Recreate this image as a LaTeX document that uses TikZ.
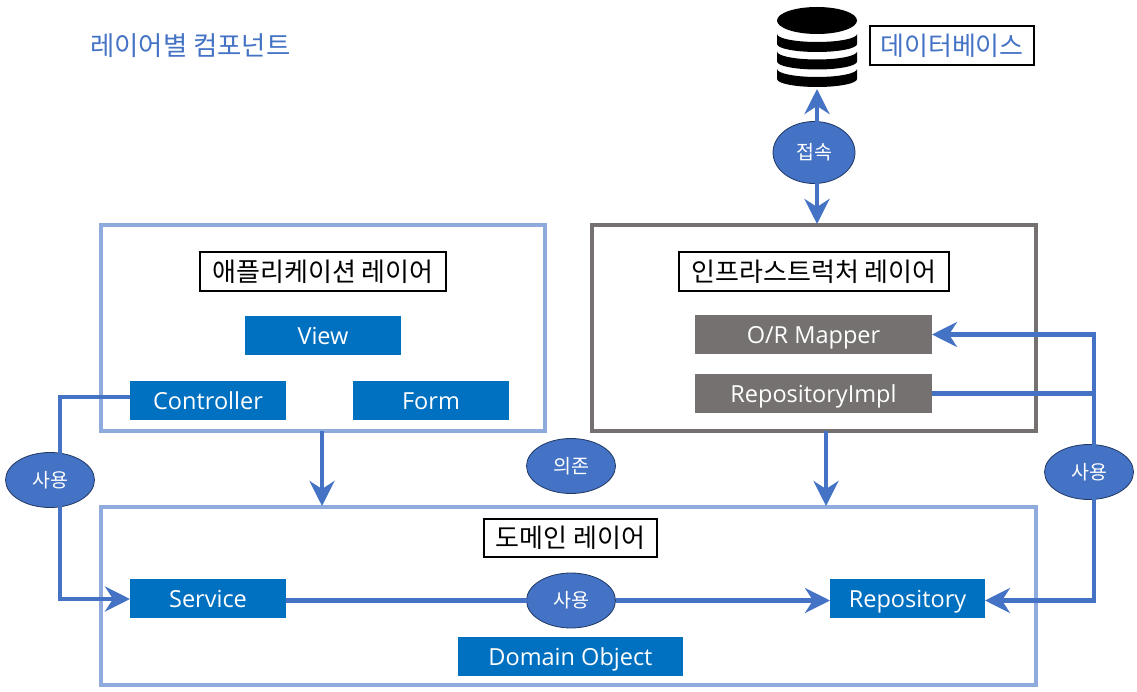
\documentclass[tikz,border=0pt]{standalone}
\usepackage{fontspec}
\setmainfont{Noto Sans CJK KR}
\newfontfamily\latinfont{Open Sans}
\usetikzlibrary{arrows.meta,shapes.geometric}
\definecolor{accent}{HTML}{4472C4}
\definecolor{paleblue}{HTML}{8FAADC}
\definecolor{slategrey}{HTML}{767171}
\definecolor{boxblue}{HTML}{0070C0}
\definecolor{ringdark}{HTML}{203864}
\tikzset{
  frameblue/.style={draw=paleblue,line width=3.5pt,inner sep=0pt,outer sep=0pt,anchor=north west},
  framegrey/.style={draw=slategrey,line width=3.5pt,inner sep=0pt,outer sep=0pt,anchor=north west},
  comp/.style={fill=boxblue,text=white,inner sep=0pt,outer sep=0pt,anchor=north west,text height=22pt,text depth=4pt,font=\fontsize{23.5}{25}\selectfont\latinfont},
  compgrey/.style={comp,fill=slategrey},
  caption/.style={draw=black,line width=1.6pt,fill=white,inner sep=0pt,outer sep=0pt,anchor=north west,font=\fontsize{26}{28}\selectfont},
  bubble/.style={ellipse,draw=ringdark,line width=0.8pt,fill=accent,text=white,inner sep=0pt,outer sep=0pt,font=\fontsize{19.5}{21}\selectfont},
  link/.style={draw=accent,line width=4.5pt},
  arr/.style={link,-{Stealth[length=25pt,width=25pt,inset=8pt]}},
}
\begin{document}
\begin{tikzpicture}[x=1pt,y=-1pt]
\useasboundingbox (0,0) rectangle (1137,692);
% frames
\node[frameblue,minimum width=444pt,minimum height=206pt] (app) at (101,225) {};
\node[framegrey,minimum width=444pt,minimum height=206pt] (infra) at (592,225) {};
\node[frameblue,minimum width=935pt,minimum height=178pt] (dom) at (101,507) {};
% title
\node[text=accent,anchor=west,inner sep=0pt,font=\fontsize{26.4}{28}\selectfont] (title) at (90,46) {레이어별 컴포넌트};
% database icon
\node[inner sep=0pt,outer sep=0pt,minimum width=80pt,minimum height=82pt] (db) at (817,48) {};
\fill[black] (817,20.5) ellipse[x radius=40,y radius=13.5];
\foreach \t in {34,51.5,69}{
  \fill[black] (777,\t) -- (777,\t+10) arc[x radius=40,y radius=8,start angle=180,end angle=0] -- (857,\t)
    arc[x radius=40,y radius=8,start angle=0,end angle=180] -- cycle;
}
% captions
\node[caption,text=accent,minimum width=164pt,minimum height=39pt] (dbcap) at (870,26) {데이터베이스};
\node[caption,minimum width=246pt,minimum height=39pt] (appcap) at (200,252) {애플리케이션 레이어};
\node[caption,minimum width=270pt,minimum height=39pt] (infracap) at (679,252) {인프라스트럭처 레이어};
\node[caption,minimum width=173pt,minimum height=38pt] (domcap) at (484,519) {도메인 레이어};
% components
\node[comp,minimum width=156pt,minimum height=39pt] (view) at (245,316) {View};
\node[comp,minimum width=156pt,minimum height=39pt] (ctrl) at (130,381) {Controller};
\node[comp,minimum width=156pt,minimum height=39pt] (form) at (353,381) {Form};
\node[comp,minimum width=156pt,minimum height=39pt] (svc) at (130,579) {Service};
\node[comp,minimum width=155pt,minimum height=39pt] (repo) at (830,579) {Repository};
\node[comp,minimum width=225pt,minimum height=39pt] (dobj) at (458,637) {Domain Object};
\node[compgrey,minimum width=237pt,minimum height=39pt] (orm) at (695,315) {O/R Mapper};
\node[compgrey,minimum width=237pt,minimum height=39pt] (impl) at (695,374) {RepositoryImpl};
% bubbles
\node[bubble,minimum width=82pt,minimum height=62pt] (sok) at (814,152.5) {접속};
\node[bubble,minimum width=89pt,minimum height=55pt] (dep) at (571,466) {의존};
\node[bubble,minimum width=89pt,minimum height=55pt] (useL) at (50,480) {사용};
\node[bubble,minimum width=89pt,minimum height=55pt] (useR) at (1089,472) {사용};
\node[bubble,minimum width=89pt,minimum height=55pt] (useM) at (571,600.5) {사용};
% connector corners
\coordinate (sokup) at (817,124);
\coordinate (sokdown) at (817,182);
\coordinate (infratop) at (817,224);
\coordinate (appdown) at (322,506);
\coordinate (infrafrom) at (826,431);
\coordinate (infradown) at (826,506);
\coordinate (ltop) at (60,397);
\coordinate (lbot) at (60,599);
\coordinate (rtop) at (1094,334.5);
\coordinate (rmid) at (1094,393.5);
\coordinate (rbot) at (1094,600.5);
% connectors
\draw[arr] (sokup) -- (db.south);
\draw[arr] (sokdown) -- (infratop);
\draw[arr] (appdown |- app.south) -- (appdown);
\draw[arr] (infrafrom) -- (infradown);
\draw[link,line cap=square] (ltop -| ctrl.west) -- (ltop) -- (60,456);
\draw[arr] (60,504) -- (lbot) -- (lbot -| svc.west);
\draw[link] (useM -| svc.east) -- (useM.west);
\draw[arr] (useM.east) -- (useM -| repo.west);
\draw[arr] (1094,447) -- (rtop) -- (orm.east);
\draw[link] (impl.east) -- (rmid);
\draw[arr] (1094,497) -- (rbot) -- (rbot -| repo.east);
\end{tikzpicture}
\end{document}
